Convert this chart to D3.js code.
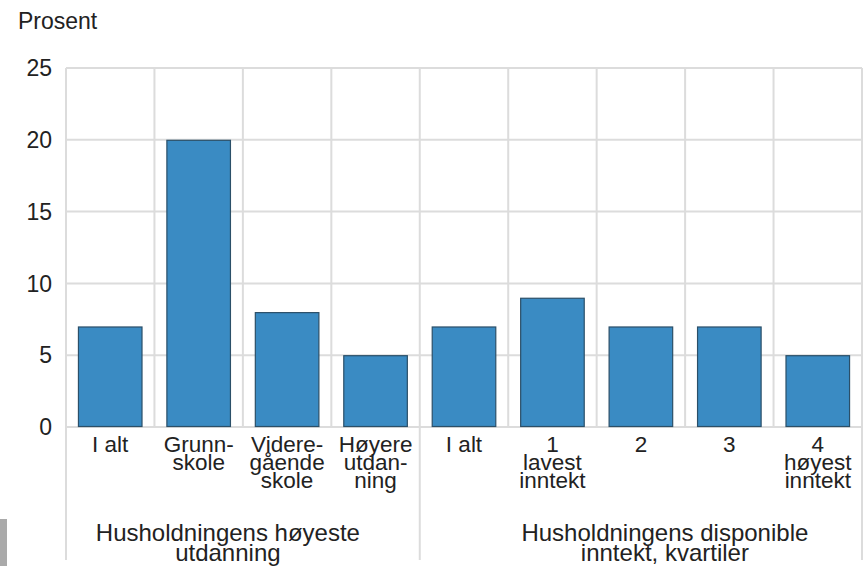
<!DOCTYPE html>
<html>
<head>
<meta charset="utf-8">
<script src="https://cdn.jsdelivr.net/npm/d3@7"></script>
<style>
  html, body { margin: 0; padding: 0; background: #fff; }
  svg { display: block; }
  text { font-family: "Liberation Sans", Arial, sans-serif; fill: #222; }
</style>
</head>
<body>
<svg id="chart" width="863" height="566"></svg>
<script>
// ---- data ----
const categories = ["I alt", "Grunnskole", "Videregående skole", "Høyere utdanning",
                    "I alt ", "1 lavest inntekt", "2", "3", "4 høyest inntekt"];
const categoryLabelLines = [
  ["I alt"], ["Grunn-", "skole"], ["Videre-", "gående", "skole"], ["Høyere", "utdan-", "ning"],
  ["I alt"], ["1", "lavest", "inntekt"], ["2"], ["3"], ["4", "høyest", "inntekt"]
];
const values = [7, 20, 8, 5, 7, 9, 7, 7, 5];
const yTicks = [0, 5, 10, 15, 20, 25];
const groupLabels = [["Husholdningens høyeste", "utdanning"], ["Husholdningens disponible", "inntekt, kvartiler"]];
const groupStart = [0, 4];
const groupEnd = [3, 8];
const yAxisTitle = "Prosent";

// ---- layout ----
const svg = d3.select("#chart");
const mLeft = 66, mRight = 862, mTop = 68, mBottom = 427;
const sepBottom = 560;

const x = d3.scaleBand().domain(categories).range([mLeft, mRight])
  .paddingInner(0.27).paddingOuter(0.135);
const y = d3.scaleLinear().domain([0, 25]).range([mBottom, mTop]);
const step = x.step();
const cellLeft = c => x(c) - step * x.paddingInner() / 2;

const gridColor = "#dcdcdc";

// gray artifact block at the left edge
svg.append("rect").attr("x", 0).attr("y", 519).attr("width", 7).attr("height", 47).attr("fill", "#aaaaaa");

// horizontal grid
svg.append("g").selectAll("line").data(yTicks).join("line")
  .attr("x1", mLeft).attr("x2", mRight)
  .attr("y1", d => y(d)).attr("y2", d => y(d))
  .attr("stroke", gridColor).attr("stroke-width", 2);

// vertical grid (category boundaries)
const boundaries = categories.map(c => cellLeft(c)).concat([mRight]);
svg.append("g").selectAll("line").data(boundaries).join("line")
  .attr("x1", d => d).attr("x2", d => d)
  .attr("y1", mTop).attr("y2", (d, i) => (i === 0 || i === groupStart[1] || i === categories.length) ? sepBottom : mBottom)
  .attr("stroke", gridColor).attr("stroke-width", 2);

// y tick labels
svg.append("g").selectAll("text").data(yTicks).join("text")
  .attr("x", 52).attr("y", d => y(d)).attr("dy", "0.36em")
  .attr("text-anchor", "end").attr("font-size", 23)
  .text(d => d);

// y axis title
svg.append("text").attr("x", 18).attr("y", 29).attr("font-size", 23).text(yAxisTitle);

// bars
svg.append("g").selectAll("rect").data(values).join("rect")
  .attr("x", (d, i) => x(categories[i]) + 0.5)
  .attr("y", d => y(d) + 0.5)
  .attr("width", x.bandwidth() - 1)
  .attr("height", d => y(0) - y(d) - 1)
  .attr("fill", "#3a8bc3")
  .attr("stroke", "#2b4f68")
  .attr("stroke-width", 1.2);

// category labels
const catG = svg.append("g");
categoryLabelLines.forEach((lines, i) => {
  const cx = x(categories[i]) + x.bandwidth() / 2;
  const t = catG.append("text").attr("text-anchor", "middle").attr("font-size", 22.5);
  lines.forEach((ln, j) => {
    t.append("tspan").attr("x", cx).attr("y", mBottom + 25 + j * 18).text(ln);
  });
});

// group labels
const groupCenterShift = [-15, 24];
groupLabels.forEach((lines, g) => {
  const x0 = cellLeft(categories[groupStart[g]]);
  const x1 = cellLeft(categories[groupEnd[g]]) + step;
  const cx = (x0 + x1) / 2 + groupCenterShift[g];
  const t = svg.append("text").attr("text-anchor", "middle").attr("font-size", 24);
  lines.forEach((ln, j) => {
    t.append("tspan").attr("x", cx).attr("y", 541 + j * 20).text(ln);
  });
});
</script>
</body>
</html>
